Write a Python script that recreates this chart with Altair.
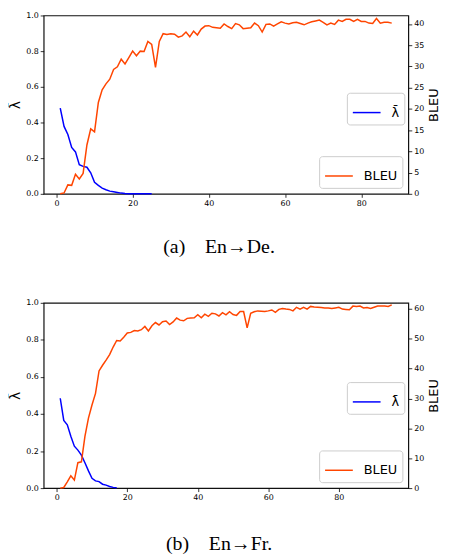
import altair as alt
import pandas as pd

LAMBDA = "λ\u0304"

# En->De
bleu_de = [0.0, 0.2, 2.1, 2.0, 4.6, 3.5, 4.8, 11.5, 15.3, 14.6,
           21.5, 24.5, 25.9, 27.0, 29.3, 29.9, 31.7, 30.6, 32.1, 33.6,
           32.5, 33.6, 33.5, 35.9, 35.2, 29.8, 35.9, 37.7, 37.5, 37.7,
           37.6, 36.9, 37.2, 38.1, 37.0, 38.3, 37.4, 38.8, 39.5, 39.6,
           39.2, 39.1, 39.0, 40.0, 39.4, 38.9, 40.1, 39.8, 38.9, 39.0,
           39.1, 40.2, 39.6, 38.1, 39.9, 40.0, 39.5, 40.0, 40.5, 40.2,
           40.0, 40.3, 40.4, 40.1, 39.8, 40.2, 40.5, 40.7, 40.9, 40.4,
           39.8, 40.2, 39.9, 40.9, 40.6, 41.1, 41.1, 40.6, 41.1, 40.6,
           40.6, 40.2, 40.1, 41.3, 40.2, 40.4, 40.4, 40.2]
lam_de = [0.48, 0.378, 0.333, 0.26, 0.235, 0.163, 0.154, 0.149, 0.118, 0.065,
          0.047, 0.032, 0.023, 0.015, 0.012, 0.008, 0.004, 0.002, 0.001, 0.001,
          0.001, 0.001, 0.001, 0.001, 0.001]

# En->Fr
bleu_fr = [0.0, 0.2, 2.1, 4.1, 2.7, 8.5, 8.8, 17.3, 23.4, 27.8,
           31.7, 39.2, 41.1, 42.8, 44.7, 47.2, 49.4, 49.2, 50.5, 51.9,
           52.1, 52.7, 52.6, 53.0, 54.1, 52.6, 54.3, 55.4, 54.6, 55.7,
           55.9, 54.7, 55.6, 56.9, 56.2, 56.0, 56.8, 56.9, 57.0, 58.0,
           57.0, 58.2, 57.5, 58.5, 58.3, 57.6, 58.7, 58.0, 59.0, 58.1,
           57.8, 59.1, 59.1, 53.6, 58.5, 59.0, 59.3, 59.2, 59.1, 59.3,
           59.6, 58.8, 59.8, 60.1, 59.9, 59.8, 59.3, 60.5, 59.9, 60.5,
           59.9, 60.8, 60.6, 60.5, 60.4, 60.3, 60.3, 60.1, 60.3, 60.5,
           59.9, 59.8, 59.7, 60.9, 60.8, 60.9, 60.3, 60.4, 60.1, 60.5,
           60.9, 60.9, 60.9, 60.8, 61.3]
lam_fr = [0.485, 0.365, 0.342, 0.28, 0.226, 0.205, 0.178, 0.137, 0.093, 0.053,
          0.039, 0.035, 0.021, 0.016, 0.009, 0.004, 0.002]

W = 368


def legend(**kw):
    return alt.Legend(title=None, symbolType="stroke", symbolSize=784,
                      symbolStrokeWidth=1.5, labelFontSize=13,
                      labelFont="DejaVu Sans", labelColor="black",
                      labelOffset=10, padding=5, strokeColor="#cccccc",
                      cornerRadius=3, fillColor="rgba(255,255,255,0.8)", **kw)


def panel(bleu, lam, x_dom, bleu_max, bleu_ticks, caption, height, lam_y, cap_offset):
    df_b = pd.DataFrame({"epoch": range(1, len(bleu) + 1), "value": bleu, "series": "BLEU"})
    df_l = pd.DataFrame({"epoch": range(1, len(lam) + 1), "value": lam, "series": LAMBDA})
    x = alt.X("epoch:Q", scale=alt.Scale(domain=x_dom, nice=False, zero=False),
              axis=alt.Axis(values=[0, 20, 40, 60, 80], title=None))
    lam_line = alt.Chart(df_l).mark_line(strokeWidth=1.5).encode(
        x=x,
        y=alt.Y("value:Q", scale=alt.Scale(domain=[0, 1], nice=False),
                axis=alt.Axis(values=[0, 0.2, 0.4, 0.6, 0.8, 1.0], format=".1f",
                              title=LAMBDA, orient="left", titlePadding=3,
                              titleFontSize=14)),
        color=alt.Color("series:N", scale=alt.Scale(domain=[LAMBDA], range=["#0000ff"]),
                        legend=legend(orient="none", legendX=W - 62, legendY=lam_y)),
    )
    bleu_line = alt.Chart(df_b).mark_line(strokeWidth=1.5).encode(
        x=x,
        y=alt.Y("value:Q", scale=alt.Scale(domain=[0, bleu_max], nice=False),
                axis=alt.Axis(values=bleu_ticks, title="BLEU", orient="right",
                              titleAngle=270, titleBaseline="top", titlePadding=4)),
        color=alt.Color("series:N", scale=alt.Scale(domain=["BLEU"], range=["#ff4500"]),
                        legend=legend(orient="bottom-right", offset=6)),
    )
    return alt.layer(lam_line, bleu_line).resolve_scale(
        y="independent", color="independent"
    ).properties(
        width=W, height=height,
        title=alt.TitleParams(caption, orient="bottom", font="Liberation Serif",
                              fontSize=20, fontWeight="normal", color="black",
                              offset=cap_offset, dx=-7),
    )


top = panel(bleu_de, lam_de, [-3.35, 92.35], 42, list(range(0, 41, 5)),
            "(a)\u2003En→De.", 180, 78, 30)
bottom = panel(bleu_fr, lam_fr, [-3.7, 99.7], 62, list(range(0, 61, 10)),
               "(b)\u2003En→Fr.", 187, 80, 33)

chart = alt.vconcat(top, bottom, spacing=40).properties(
    padding=0
).configure_view(
    stroke="#111111", strokeWidth=1.2
).configure_axis(
    labelFont="DejaVu Sans", labelFontSize=8, labelColor="black",
    titleFont="DejaVu Sans", titleFontSize=13, titleFontWeight="normal", titleColor="black",
    tickColor="black", tickSize=3.5, tickWidth=0.8, labelPadding=2,
    domain=False, grid=False,
)

chart.save("out.html", embed_options={"renderer": "svg", "actions": False})
